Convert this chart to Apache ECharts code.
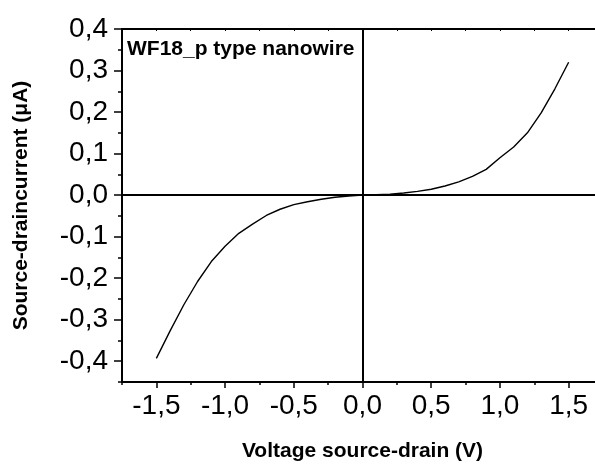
<!DOCTYPE html>
<html>
<head>
<meta charset="utf-8">
<script src="https://cdn.jsdelivr.net/npm/echarts@6/dist/echarts.min.js"></script>
<style>
html,body{margin:0;padding:0;background:#fff;}
#chart{width:595px;height:465px;}
</style>
</head>
<body>
<div id="chart"></div>
<script>
const voltage = [-1.5,-1.4,-1.3,-1.2,-1.1,-1.0,-0.9,-0.8,-0.7,-0.6,-0.5,-0.4,-0.3,-0.2,-0.1,0.0,0.1,0.2,0.3,0.4,0.5,0.6,0.7,0.8,0.9,1.0,1.1,1.2,1.3,1.4,1.5];
const current = [-0.393,-0.327,-0.264,-0.208,-0.160,-0.123,-0.092,-0.070,-0.049,-0.034,-0.023,-0.016,-0.010,-0.005,-0.002,0.0,0.001,0.002,0.005,0.009,0.014,0.022,0.032,0.045,0.062,0.090,0.116,0.150,0.198,0.256,0.320];
const xTickLabels = [-1.5,-1.0,-0.5,0.0,0.5,1.0,1.5];
const yTickLabels = [-0.4,-0.3,-0.2,-0.1,0.0,0.1,0.2,0.3,0.4];
const xTitle = 'Voltage source-drain (V)';
const yTitle = 'Source-draincurrent (\u03bcA)';
const noteText = 'WF18_p type nanowire';

function fmt(v){
  let s = Math.abs(v) < 1e-9 ? '0.0' : v.toFixed(1);
  return s.replace('.', ',');
}
const FONT = 'Liberation Sans, Arial, sans-serif';
const chart = echarts.init(document.getElementById('chart'), null, {renderer:'canvas'});
const lineCol = '#000';
chart.setOption({
  animation:false,
  backgroundColor:'#fff',
  grid:{left:122, top:29, right:-8, bottom:83, containLabel:false, outerBoundsMode:'none'},
  xAxis:[
    {type:'value', position:'bottom', min:-1.75, max:1.75, interval:0.25,
     name:xTitle, nameLocation:'middle', nameGap:59,
     nameTextStyle:{fontFamily:FONT, fontWeight:'bold', fontSize:21, color:'#000'},
     axisLine:{onZero:false, lineStyle:{color:lineCol, width:2}},
     axisTick:{customValues:xTickLabels, length:6, lineStyle:{color:lineCol, width:1.5}},
     axisLabel:{customValues:xTickLabels, formatter:fmt, margin:10, fontFamily:FONT, fontSize:28, color:'#000'},
     splitLine:{show:false}},
    {type:'value', position:'bottom', min:-1.75, max:1.75, interval:0.25,
     axisLine:{show:false, onZero:false},
     axisTick:{length:3, lineStyle:{color:lineCol, width:1.5}},
     axisLabel:{show:false}, splitLine:{show:false}},
    {type:'value', position:'top', min:-1.75, max:1.75, interval:0.25,
     axisLine:{onZero:false, lineStyle:{color:lineCol, width:2}},
     axisTick:{inside:true, length:2, lineStyle:{color:lineCol, width:1}},
     axisLabel:{show:false}, splitLine:{show:false}}
  ],
  yAxis:[
    {type:'value', position:'left', min:-0.45, max:0.4, interval:0.05,
     name:yTitle, nameLocation:'middle', nameGap:90, nameRotate:90,
     nameTextStyle:{fontFamily:FONT, fontWeight:'bold', fontSize:21, color:'#000'},
     axisLine:{onZero:false, lineStyle:{color:lineCol, width:2}},
     axisTick:{customValues:yTickLabels, length:8, lineStyle:{color:lineCol, width:1.5}},
     axisLabel:{customValues:yTickLabels, formatter:fmt, margin:14, fontFamily:FONT, fontSize:28, color:'#000'},
     splitLine:{show:false}},
    {type:'value', position:'left', min:-0.45, max:0.4, interval:0.05,
     axisLine:{show:false, onZero:false},
     axisTick:{length:4, lineStyle:{color:lineCol, width:1.5}},
     axisLabel:{show:false}, splitLine:{show:false}}
  ],
  graphic:[
    {type:'text', left:127, top:39, style:{text:noteText, font:'bold 21px Liberation Sans, Arial, sans-serif', fill:'#000'}}
  ],
  series:[{
    type:'line', xAxisIndex:0, yAxisIndex:0,
    data: voltage.map((v,i)=>[v,current[i]]),
    showSymbol:false, symbol:'none',
    lineStyle:{color:'#000', width:1.4},
    markLine:{silent:true, symbol:['none','none'], label:{show:false},
      lineStyle:{color:'#000', width:2, type:'solid'},
      data:[{xAxis:0},{yAxis:0}]}
  }]
});
</script>
</body>
</html>
